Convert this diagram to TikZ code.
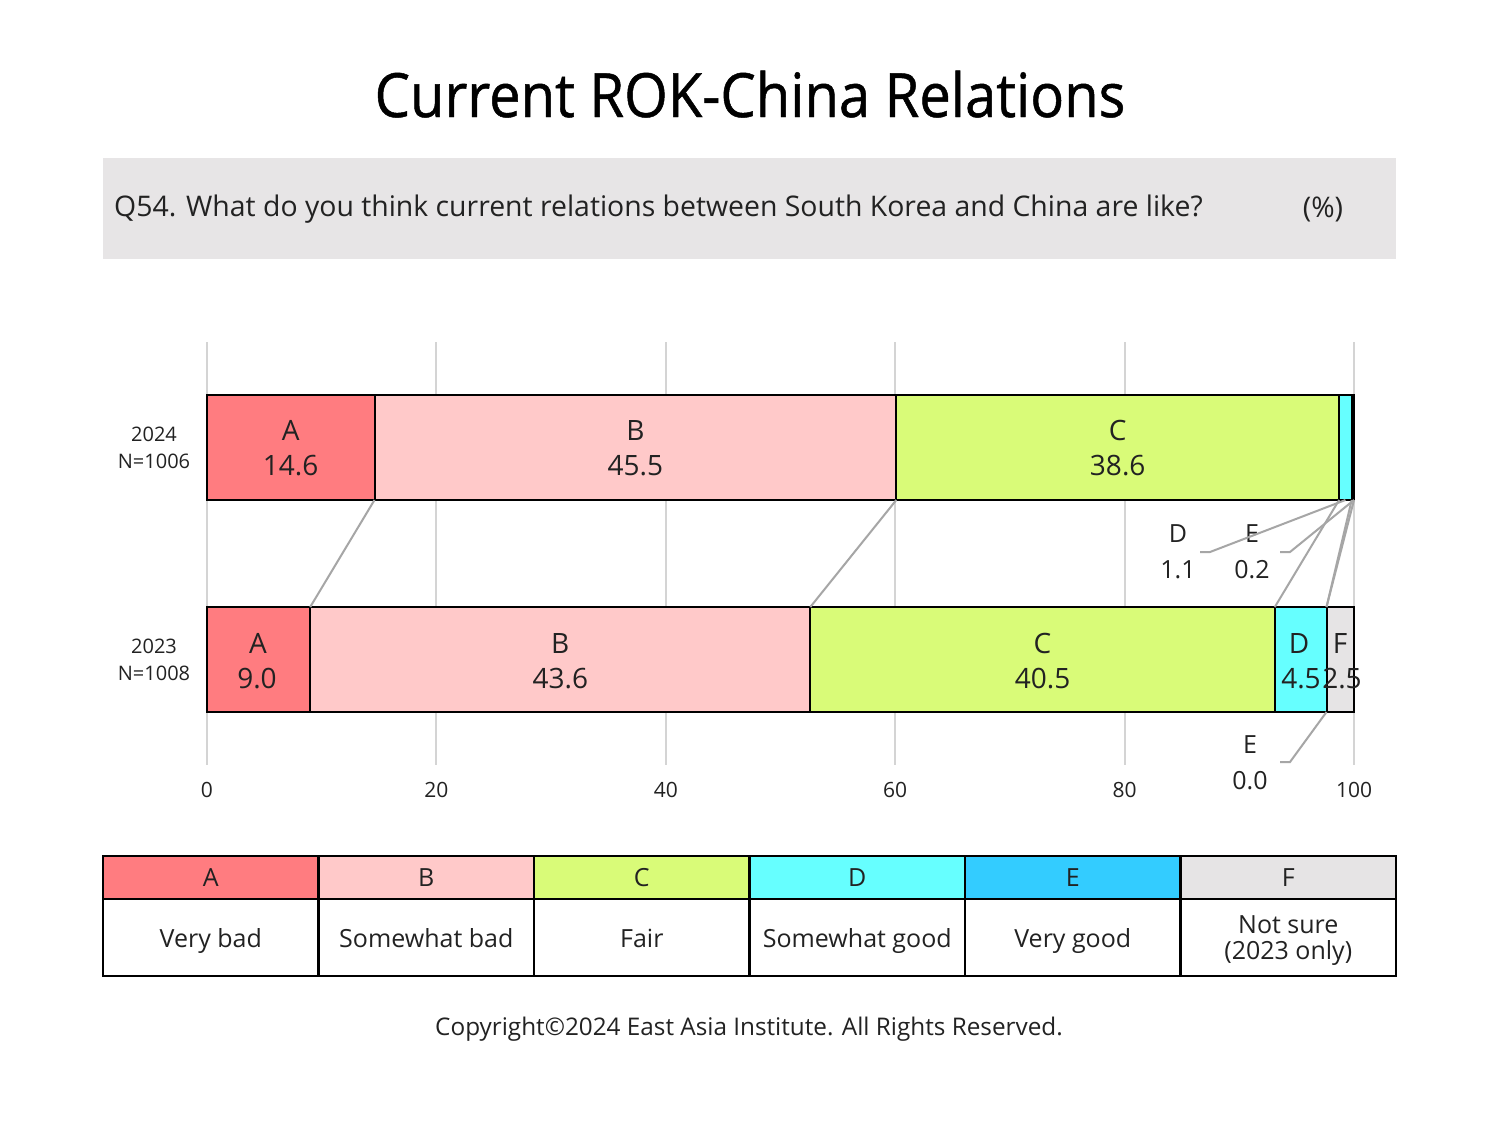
\documentclass[tikz,border=0pt]{standalone}
\usepackage{fontspec}
\setmainfont{Open Sans}
\setsansfont{Open Sans}
\newfontfamily\titlefont[FakeStretch=0.92,FakeBold=0.8]{Open Sans}
\definecolor{cA}{HTML}{FF7C80}
\definecolor{cB}{HTML}{FFC9C9}
\definecolor{cC}{HTML}{D9FB78}
\definecolor{cD}{HTML}{66FFFF}
\definecolor{cE}{HTML}{33CCFF}
\definecolor{cF}{HTML}{E6E4E5}
\definecolor{qbox}{HTML}{E7E5E6}
\definecolor{gridc}{HTML}{D4D4D4}
\definecolor{linkc}{HTML}{A6A6A6}
\definecolor{txt}{HTML}{222222}
\newcommand{\fs}[1]{\fontsize{#1}{#1}\selectfont}
\tikzset{
  seg/.style={draw=black, line width=2pt},
  gridline/.style={draw=gridc, line width=2pt},
  link/.style={draw=linkc, line width=2pt},
  seglabel/.style={text=txt, font=\fs{28}, inner sep=0pt, anchor=center},
  outlabel/.style={text=txt, font=\fs{25}, inner sep=0pt, anchor=center},
  yearlabel/.style={text=txt, font=\fs{20}, inner sep=0pt, anchor=center},
  ticklabel/.style={text=txt, font=\fs{21}, inner sep=0pt, anchor=center},
  legcell/.style={draw=black, line width=2.5pt},
  leglabel/.style={text=txt, font=\fs{25}, inner sep=0pt, anchor=center, align=center},
  legdesc/.style={text=txt, font=\fs{25}, inner sep=0pt, anchor=base},
}
\begin{document}
\begin{tikzpicture}[x=1pt,y=-1pt]
\useasboundingbox (0,0) rectangle (1500,1125);
\fill[white] (0,0) rectangle (1500,1125);

% title
\node[text=black, font=\titlefont\fs{61}, inner sep=0pt, anchor=base] (title) at (750,117) {Current ROK-China Relations};

% question box
\fill[qbox] (103,158) rectangle (1396,259);
\node[text=txt, font=\fs{28.4}, inner sep=0pt, anchor=west] (question) at (114,209) {Q54. What do you think current relations between South Korea and China are like?};
\node[text=txt, font=\fs{28.4}, inner sep=0pt] (pct) at (1323,209) {(\%)};

% grid lines
\foreach \gx in {207,436.4,665.8,895.2,1124.6,1354}{
  \draw[gridline] (\gx,342) -- (\gx,765);
}
\node[ticklabel] (t0) at (207,790) {0};
\node[ticklabel] (t20) at (436.4,790) {20};
\node[ticklabel] (t40) at (665.8,790) {40};
\node[ticklabel] (t60) at (895.2,790) {60};
\node[ticklabel] (t80) at (1124.6,790) {80};
\node[ticklabel] (t100) at (1354,790) {100};

% 2024 bar (y 395-500)
\fill[cA] (207,395) rectangle (374.5,500);
\fill[cB] (374.5,395) rectangle (896.3,500);
\fill[cC] (896.3,395) rectangle (1339.1,500);
\fill[cD] (1339.1,395) rectangle (1351.7,500);
\fill[cE] (1351.7,395) rectangle (1354,500);
\draw[seg] (207,395) rectangle (1354,500);
\foreach \bx in {374.5,896.3,1339.1,1351.7}{\draw[seg] (\bx,395) -- (\bx,500);}
\fill[black] (1351.7,395) rectangle (1355,500);

% 2023 bar (y 607-712)
\fill[cA] (207,607) rectangle (310.2,712);
\fill[cB] (310.2,607) rectangle (810.3,712);
\fill[cC] (810.3,607) rectangle (1274.8,712);
\fill[cD] (1274.8,607) rectangle (1326.5,712);
\fill[cF] (1326.5,607) rectangle (1354,712);
\draw[seg] (207,607) rectangle (1354,712);
\foreach \bx in {310.2,810.3,1274.8,1326.5}{\draw[seg] (\bx,607) -- (\bx,712);}

% boundary coordinates
\coordinate (a24) at (374.5,500);
\coordinate (b24) at (896.3,500);
\coordinate (c24) at (1339.1,500);
\coordinate (d24) at (1351.7,500);
\coordinate (e24) at (1354,500);
\coordinate (dmid24) at (1345.4,500);
\coordinate (a23) at (310.2,607);
\coordinate (b23) at (810.3,607);
\coordinate (c23) at (1274.8,607);
\coordinate (d23) at (1326.5,607);
\coordinate (e23) at (1326.5,607);
\coordinate (e23b) at (1326.5,712);

% series lines
\draw[link] (a24) -- (a23);
\draw[link] (b24) -- (b23);
\draw[link] (c24) -- (c23);
\draw[link] (d24) -- (d23);
\draw[link] (e24) -- (e23);

% segment labels 2024
\node[seglabel] (lA24) at (290.7,430) {A};
\node[seglabel] (vA24) at (290.7,466) {14.6};
\node[seglabel] (lB24) at (635.4,430) {B};
\node[seglabel] (vB24) at (635.4,466) {45.5};
\node[seglabel] (lC24) at (1117.7,430) {C};
\node[seglabel] (vC24) at (1117.7,466) {38.6};

% segment labels 2023
\node[seglabel] (lA23) at (258,643) {A};
\node[seglabel] (vA23) at (257,679) {9.0};
\node[seglabel] (lB23) at (560.3,643) {B};
\node[seglabel] (vB23) at (560.3,679) {43.6};
\node[seglabel] (lC23) at (1042.5,643) {C};
\node[seglabel] (vC23) at (1042.5,679) {40.5};
\node[seglabel] (lD23) at (1299,643) {D};
\node[seglabel] (vD23) at (1301,679) {4.5};
\node[seglabel] (lF23) at (1340,643) {F};
\node[seglabel] (vF23) at (1342,679) {2.5};

% outside labels
\node[outlabel] (lD24) at (1178,534) {D};
\node[outlabel] (vD24) at (1178,570) {1.1};
\node[outlabel] (lE24) at (1252,534) {E};
\node[outlabel] (vE24) at (1252,570) {0.2};
\node[outlabel] (lE23) at (1250,745) {E};
\node[outlabel] (vE23) at (1250,781) {0.0};
\coordinate (kD24) at (1200,552);
\coordinate (kE24) at (1280,552);
\coordinate (kE23) at (1280,762);
\draw[link] (kD24) -- ++(10,0) -- (dmid24);
\draw[link] (kE24) -- ++(10,0) -- (e24);
\draw[link] (kE23) -- ++(10,0) -- (e23b);

% year labels
\node[yearlabel] (y24) at (154,434) {2024};
\node[yearlabel] (n24) at (154,461) {N=1006};
\node[yearlabel] (y23) at (154,646) {2023};
\node[yearlabel] (n23) at (154,673) {N=1008};

% legend table
\fill[cA] (103,856) rectangle (318.5,899);
\fill[cB] (318.5,856) rectangle (534,899);
\fill[cC] (534,856) rectangle (749.5,899);
\fill[cD] (749.5,856) rectangle (965,899);
\fill[cE] (965,856) rectangle (1180.5,899);
\fill[cF] (1180.5,856) rectangle (1396,899);
\draw[legcell] (103,856) rectangle (1396,976);
\draw[legcell] (103,899) -- (1396,899);
\foreach \lx in {318.5,534,749.5,965,1180.5}{\draw[legcell] (\lx,856) -- (\lx,976);}
\node[leglabel] (hA) at (210.8,878) {A};
\node[leglabel] (hB) at (426.3,878) {B};
\node[leglabel] (hC) at (641.8,878) {C};
\node[leglabel] (hD) at (857.3,878) {D};
\node[leglabel] (hE) at (1072.8,878) {E};
\node[leglabel] (hF) at (1288.3,878) {F};
\node[legdesc] (dA) at (210.8,947) {Very bad};
\node[legdesc] (dB) at (426.3,947) {Somewhat bad};
\node[legdesc] (dC) at (641.8,947) {Fair};
\node[legdesc] (dD) at (857.3,947) {Somewhat good};
\node[legdesc] (dE) at (1072.8,947) {Very good};
\node[legdesc] (dF1) at (1288.3,933) {Not sure};
\node[legdesc] (dF2) at (1288.3,959) {(2023 only)};

% copyright
\node[text=txt, font=\fs{24.3}, inner sep=0pt, anchor=base] (copy) at (749,1035) {Copyright\textcopyright2024 East Asia Institute. All Rights Reserved.};
\end{tikzpicture}
\end{document}
